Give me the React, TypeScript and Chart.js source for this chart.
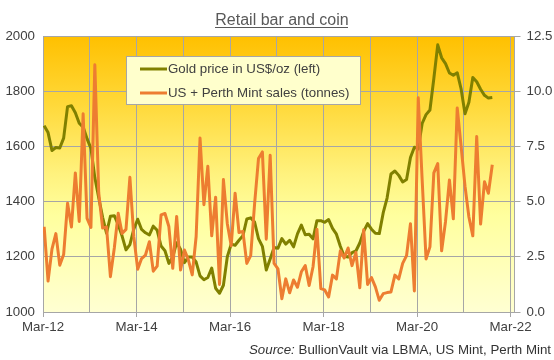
import React, { useEffect, useRef } from 'react';
import { Chart, registerables } from 'chart.js';

Chart.register(...registerables);

// Monthly series, first month = Mar 2012
const goldPrice = [
  1675, 1650, 1585, 1596, 1594, 1630, 1744, 1747, 1722, 1684,
  1670, 1628, 1593, 1487, 1414, 1343, 1286, 1347, 1349, 1316, 1275, 1225,
  1244, 1300, 1336, 1299, 1287, 1279, 1311, 1296, 1239, 1222, 1176, 1200,
  1251, 1227, 1179, 1199, 1199, 1181, 1131, 1117, 1125, 1159, 1086, 1068,
  1097, 1200, 1246, 1242, 1260, 1276, 1337, 1341, 1326, 1266, 1238, 1152,
  1192, 1234, 1231, 1266, 1246, 1260, 1236, 1283, 1315, 1280, 1282, 1265,
  1331, 1331, 1325, 1335, 1303, 1282, 1238, 1202, 1199, 1215, 1221, 1250,
  1292, 1320, 1300, 1285, 1284, 1359, 1413, 1500, 1511, 1495, 1471, 1480,
  1560, 1597, 1591, 1683, 1715, 1732, 1846, 1968, 1921, 1900, 1866, 1858,
  1867, 1808, 1718, 1760, 1850, 1834, 1807, 1785, 1775, 1777,
];

const mintSales = [
  3.86, 1.4, 2.85, 3.55, 2.12, 2.6, 4.92, 3.85, 6.3, 4.1,
  8.98, 4.24, 3.83, 11.2, 5.4, 3.8, 3.85, 1.6, 2.9, 4.47, 3.56, 3.74,
  6.1, 3.41, 1.94, 2.42, 2.58, 3.18, 1.85, 2.08, 4.4, 4.46, 3.87, 1.98,
  4.33, 1.9, 2.81, 2.36, 1.68, 3.42, 7.88, 4.86, 6.6, 3.45, 5.2, 1.25,
  6.0, 4.0, 3.0, 5.38, 3.6, 3.65, 2.2, 2.55, 4.9, 6.95, 7.25, 3.3,
  7.1, 2.2, 1.95, 0.6, 1.5, 0.87, 1.45, 1.12, 1.82, 2.1, 1.2, 2.05,
  3.75, 1.06, 1.0, 0.68, 1.67, 1.5, 2.77, 2.45, 2.9, 2.1, 2.7, 1.1,
  3.72, 1.25, 1.56, 1.14, 0.53, 0.83, 0.88, 0.91, 1.67, 1.5, 2.2, 2.55,
  4.0, 0.95, 9.7, 6.0, 2.4, 2.95, 6.3, 6.72, 2.77, 4.1, 5.98, 4.22,
  9.24, 7.5, 5.7, 4.3, 3.45, 7.95, 3.98, 5.9, 5.38, 6.67,
];

const xTickLabels = ['Mar-12', 'Mar-14', 'Mar-16', 'Mar-18', 'Mar-20', 'Mar-22'];
const seriesLabels = ['Gold price in US$/oz (left)', 'US + Perth Mint sales (tonnes)'];
const seriesColors = ['#808000', '#ED7D31'];
const titleText = 'Retail bar and coin';
const sourceItalic = 'Source:';
const sourceText = ' BullionVault via LBMA, US Mint, Perth Mint';

const FONT = '"Liberation Sans", Arial, sans-serif';
const GRID = '#A6A6A6';
const TEXT = '#404040';

const bgPlugin = {
  id: 'plotBg',
  beforeDraw(chart: any) {
    const { ctx, chartArea: a } = chart;
    const g = ctx.createLinearGradient(0, a.top, 0, a.bottom);
    g.addColorStop(0, '#FFC000');
    g.addColorStop(0.25, '#FFD93A');
    g.addColorStop(0.5, '#FFF27E');
    g.addColorStop(0.65, '#FFFF9E');
    g.addColorStop(1, '#FFFFD2');
    ctx.save();
    ctx.fillStyle = g;
    ctx.fillRect(a.left, a.top, a.right - a.left, a.bottom - a.top);
    ctx.restore();
  },
};

const overlayPlugin = {
  id: 'overlay',
  afterDraw(chart: any) {
    const { ctx } = chart;
    ctx.save();
    // Title with underline
    ctx.font = `16px ${FONT}`;
    ctx.fillStyle = '#595959';
    ctx.textAlign = 'center';
    ctx.textBaseline = 'alphabetic';
    const tx = 282;
    ctx.fillText(titleText, tx, 25);
    const tw = ctx.measureText(titleText).width;
    ctx.fillRect(Math.round(tx - tw / 2), 27, Math.round(tw), 1);

    // Legend box
    const lx = 126.5, ly = 56.5, lw = 234, lh = 48;
    ctx.fillStyle = '#FFFFCC';
    ctx.fillRect(lx, ly, lw, lh);
    ctx.strokeStyle = GRID;
    ctx.lineWidth = 1;
    ctx.strokeRect(lx, ly, lw, lh);
    const rows = [69, 93];
    ctx.font = `13.3px ${FONT}`;
    ctx.textAlign = 'left';
    ctx.textBaseline = 'middle';
    rows.forEach((y, i) => {
      ctx.strokeStyle = seriesColors[i];
      ctx.lineWidth = 3;
      ctx.beginPath();
      ctx.moveTo(140, y);
      ctx.lineTo(167, y);
      ctx.stroke();
      ctx.fillStyle = TEXT;
      ctx.fillText(seriesLabels[i], 168, y);
    });

    // Source line
    ctx.textBaseline = 'alphabetic';
    ctx.textAlign = 'left';
    ctx.font = `13.3px ${FONT}`;
    const w2 = ctx.measureText(sourceText).width;
    ctx.font = `italic 13.3px ${FONT}`;
    const w1 = ctx.measureText(sourceItalic).width;
    const right = 551;
    const sx = right - w1 - w2;
    ctx.fillStyle = '#333333';
    ctx.fillText(sourceItalic, sx, 354);
    ctx.font = `13.3px ${FONT}`;
    ctx.fillText(sourceText, sx + w1, 354);
    ctx.restore();
  },
};

export default function App() {
  const canvasRef = useRef<HTMLCanvasElement | null>(null);

  useEffect(() => {
    document.body.style.margin = '0';
    const canvas = canvasRef.current;
    if (!canvas) return;
    const tickFont = { family: FONT, size: 13.3 };
    const chart = new Chart(canvas, {
      type: 'line',
      data: {
        datasets: [
          {
            label: seriesLabels[0],
            data: goldPrice.map((v, i) => ({ x: i + 0.3, y: v })),
            yAxisID: 'y',
            borderColor: seriesColors[0],
            backgroundColor: seriesColors[0],
            borderWidth: 3,
            pointRadius: 0,
            tension: 0,
            borderJoinStyle: 'round',
            order: 1,
          },
          {
            label: seriesLabels[1],
            data: mintSales.map((v, i) => ({ x: i + 0.3, y: v })),
            yAxisID: 'y1',
            borderColor: seriesColors[1],
            backgroundColor: seriesColors[1],
            borderWidth: 3,
            pointRadius: 0,
            tension: 0,
            borderJoinStyle: 'round',
            order: 0,
          },
        ],
      },
      options: {
        animation: false,
        responsive: true,
        maintainAspectRatio: false,
        layout: { padding: { top: 36, bottom: 0, left: 0, right: 0 } },
        plugins: {
          legend: { display: false },
          title: { display: false },
          tooltip: { enabled: false },
        },
        scales: {
          x: {
            type: 'linear',
            min: 0,
            max: 121,
            afterFit: (s: any) => { s.height = 48; },
            grid: {
              color: GRID,
              lineWidth: 1,
              tickLength: 5,
              tickColor: (c: any) => (c.tick && c.tick.value % 24 === 0 ? GRID : 'rgba(0,0,0,0)'),
            },
            border: { color: GRID },
            ticks: {
              stepSize: 12,
              autoSkip: false,
              maxRotation: 0,
              includeBounds: false,
              padding: 2,
              color: TEXT,
              font: tickFont,
              callback: (value: any) => {
                const v = Number(value);
                return v % 24 === 0 ? xTickLabels[v / 24] : '';
              },
            },
          },
          y: {
            position: 'left',
            min: 1000,
            max: 2000,
            afterFit: (s: any) => { s.width = 43; },
            grid: { color: GRID, drawTicks: false },
            border: { color: GRID },
            ticks: {
              stepSize: 200,
              padding: 8,
              color: TEXT,
              font: tickFont,
              callback: (v: any) => String(Math.round(Number(v))),
            },
          },
          y1: {
            position: 'right',
            min: 0,
            max: 12.5,
            afterFit: (s: any) => { s.width = 39.5; },
            grid: { drawOnChartArea: false, tickLength: 6, color: GRID },
            border: { color: GRID },
            ticks: {
              stepSize: 2.5,
              padding: 6,
              color: TEXT,
              font: tickFont,
              callback: (v: any) => Number(v).toFixed(1),
            },
          },
        },
      } as any,
      plugins: [bgPlugin, overlayPlugin],
    });
    return () => chart.destroy();
  }, []);

  return (
    <div style={{ width: 554, height: 360, position: 'relative', background: '#FFFFFF' }}>
      <canvas ref={canvasRef} />
    </div>
  );
}
